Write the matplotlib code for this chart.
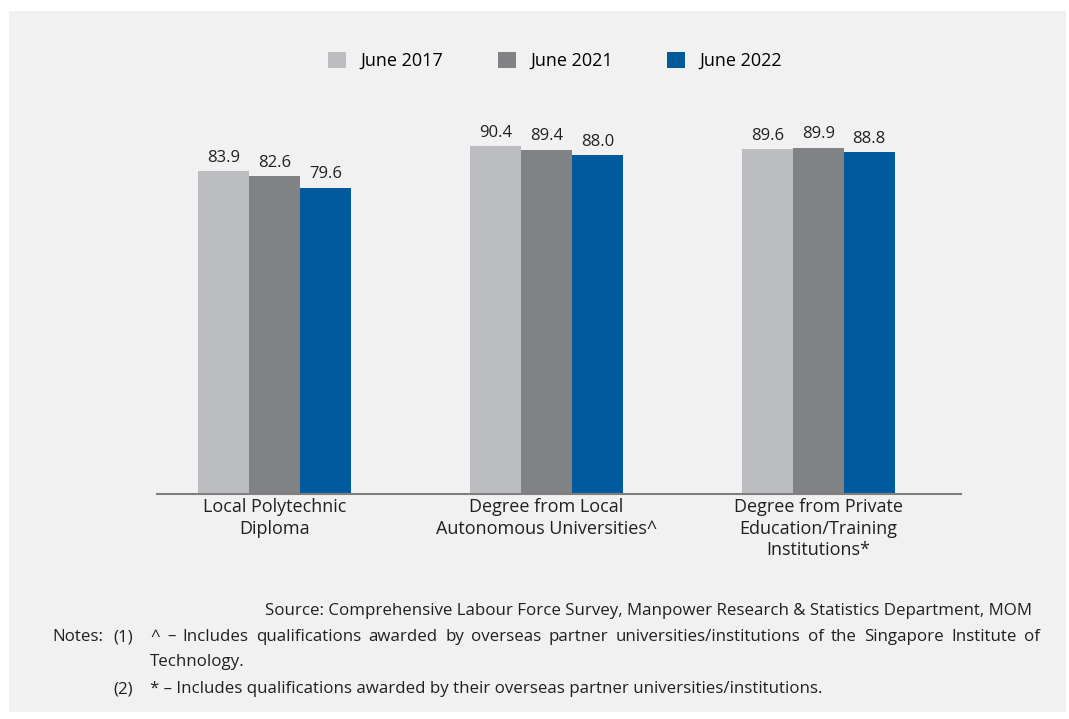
import numpy as np
import matplotlib.pyplot as plt
from matplotlib.patches import Rectangle

plt.rcParams['font.family'] = ['Open Sans', 'DejaVu Sans']

# Data
categories = ['Local Polytechnic\nDiploma',
              'Degree from Local\nAutonomous Universities^',
              'Degree from Private\nEducation/Training\nInstitutions*']
series = ['June 2017', 'June 2021', 'June 2022']
june_2017 = [83.9, 90.4, 89.6]
june_2021 = [82.6, 89.4, 89.9]
june_2022 = [79.6, 88.0, 88.8]
colors = ['#bcbdc0', '#808285', '#005a9c']

W, H = 1069, 719
fig = plt.figure(figsize=(W / 100, H / 100), dpi=100)
fig.patch.set_facecolor('white')

# grey panel behind everything
fig.patches.append(Rectangle((9 / W, 7 / H), 1057 / W, 701 / H,
                             transform=fig.transFigure, facecolor='#f1f1f1',
                             edgecolor='none', zorder=-5))

ax = fig.add_axes([157 / W, 225 / H, 804 / W, 385 / H])
ax.set_facecolor('none')
ax.set_zorder(2)

x = np.arange(len(categories))
w = 0.1875
for i, (vals, name) in enumerate(zip([june_2017, june_2021, june_2022], series)):
    bars = ax.bar(x + (i - 1) * w, vals, w, color=colors[i], label=name, zorder=2)
    for b, v in zip(bars, vals):
        ax.text(b.get_x() + b.get_width() / 2, v + 1.4, f'{v:.1f}',
                ha='center', va='bottom', fontsize=12, color='#231f20')

ax.set_ylim(0, 100)
ax.set_xlim(-0.434, 2.526)
ax.set_yticks([])
ax.set_xticks(x)
ax.set_xticklabels(categories, fontsize=13, color='#231f20', linespacing=1.25)
ax.tick_params(axis='x', length=0, pad=3)
for s in ['top', 'right', 'left']:
    ax.spines[s].set_visible(False)
ax.spines['bottom'].set_color('#7f7f7f')
ax.spines['bottom'].set_linewidth(1.5)

leg = fig.legend(loc='center', bbox_to_anchor=(555 / W, 1 - 61 / H), ncol=3,
                 frameon=False, fontsize=13, handlelength=1.0, handleheight=1.0,
                 columnspacing=3.0, handletextpad=0.8)

# footnotes
txt = '#231f20'
fs = 12.2
fig.text(1032 / W, 1 - 611 / H,
         'Source: Comprehensive Labour Force Survey, Manpower Research & Statistics Department, MOM',
         ha='right', va='center', fontsize=fs, color=txt)
fig.text(52 / W, 1 - 637 / H, 'Notes:', ha='left', va='center', fontsize=fs, color=txt)
fig.text(113 / W, 1 - 637 / H, '(1)', ha='left', va='center', fontsize=fs, color=txt)

# justified first line of note (1)
words = ('^ \u2013 Includes qualifications awarded by overseas partner '
         'universities/institutions of the Singapore Institute of').split()
fig.canvas.draw()
renderer = fig.canvas.get_renderer()
items = [fig.text(0, 1 - 637 / H, wd, ha='left', va='center', fontsize=fs, color=txt)
         for wd in words]
widths = [t.get_window_extent(renderer).width for t in items]
x0, x1 = 150, 1040
gap = (x1 - x0 - sum(widths)) / (len(words) - 1)
pos = x0
for t, wd in zip(items, widths):
    t.set_x(pos / W)
    pos += wd + gap

fig.text(150 / W, 1 - 662 / H, 'Technology.', ha='left', va='center', fontsize=fs, color=txt)
fig.text(113 / W, 1 - 689 / H, '(2)', ha='left', va='center', fontsize=fs, color=txt)
fig.text(150 / W, 1 - 689 / H,
         '* \u2013 Includes qualifications awarded by their overseas partner universities/institutions.',
         ha='left', va='center', fontsize=fs, color=txt)

fig.savefig('out.png', dpi=100)
